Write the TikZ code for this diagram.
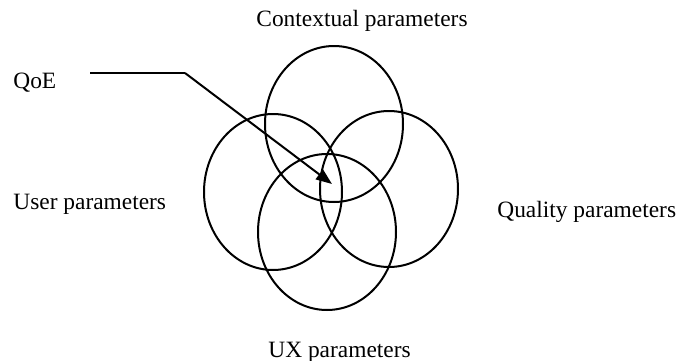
\documentclass[tikz,border=0pt]{standalone}
\usepackage{fontspec}
\setmainfont{Liberation Serif}
\usepackage{tikz}
\usetikzlibrary{shapes.geometric, arrows.meta, positioning}

\begin{document}
\begin{tikzpicture}[
    x=0.5pt, y=-0.5pt,
    every node/.style={font=\fontsize{11.7pt}{14pt}\selectfont},
    param/.style={inner sep=0pt},
    ring/.style={ellipse, draw, line width=1pt, minimum width=69pt, minimum height=78pt, inner sep=0pt},
    arrow/.style={-{Triangle[length=8pt, width=6pt]}, line width=1pt}
]
    \useasboundingbox (0,0) rectangle (681,360);

    % the four sets
    \node[ring] (ctx) at (334,124) {};
    \node[ring] (usr) at (273,192) {};
    \node[ring] (qual) at (389,189) {};
    \node[ring] (uxs) at (327,232) {};

    % labels
    \node[param, anchor=base] (context) at (362,26) {Contextual parameters};
    \node[param, anchor=base west] (qoe) at (13,88) {QoE};
    \node[param, anchor=base west] (user) at (13,209) {User parameters};
    \node[param, anchor=base west] (quality) at (497,217) {Quality parameters};
    \node[param, anchor=base west] (ux) at (268,357) {UX parameters};

    % pointer from QoE to the common part
    \coordinate (qoe start) at (90,73);
    \coordinate (bend) at (185,73);
    \coordinate (core) at (332,184);
    \draw[line width=0.6pt] (qoe start) -- (bend);
    \draw[arrow] (bend) -- (core);
\end{tikzpicture}
\end{document}
